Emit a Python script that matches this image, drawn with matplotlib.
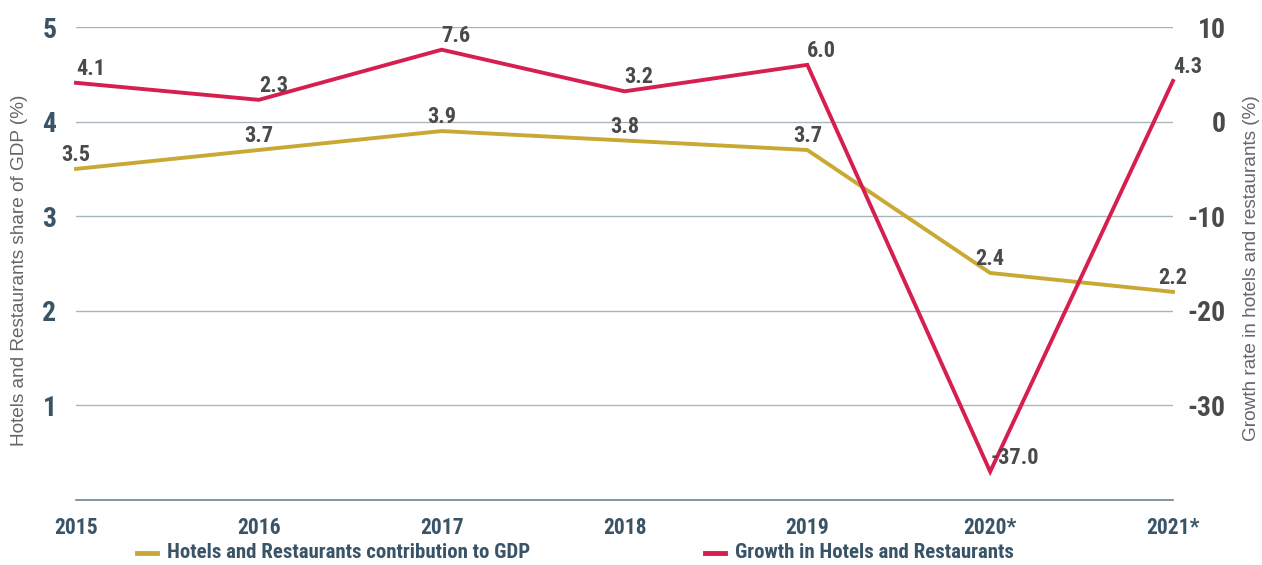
import matplotlib
matplotlib.use("Agg")
import matplotlib.pyplot as plt
from matplotlib.lines import Line2D

years = ["2015", "2016", "2017", "2018", "2019", "2020*", "2021*"]
gdp_share = [3.5, 3.7, 3.9, 3.8, 3.7, 2.4, 2.2]
growth = [4.1, 2.3, 7.6, 3.2, 6.0, -37.0, 4.3]
left_ticks = [1, 2, 3, 4, 5]
right_ticks = [-30, -20, -10, 0, 10]
series_names = ["Hotels and Restaurants contribution to GDP",
                "Growth in Hotels and Restaurants"]

GOLD = "#C9A933"
RED = "#D61F4F"
SLATE = "#3A5467"
DARK = "#4A4A4A"
GRID = "#A9B5BD"
AXIS = "#6C8395"

COND = ["Roboto Condensed", "DejaVu Sans"]
PLAIN = ["Liberation Sans", "DejaVu Sans"]

W, H = 1262, 565
fig = plt.figure(figsize=(W / 100, H / 100), dpi=100)
ax = fig.add_axes([76 / W, 65 / H, (1173 - 76) / W, (500 - 27) / H])
ax2 = ax.twinx()

x = list(range(len(years)))

ax.set_xlim(0, len(years) - 1)
ax.set_ylim(0, 5)
ax2.set_ylim(-40, 10)

for v in left_ticks:
    ax.axhline(v, color=GRID, lw=1.0, zorder=0)

for a in (ax, ax2):
    for s in a.spines.values():
        s.set_visible(False)
ax.spines["bottom"].set_visible(True)
ax.spines["bottom"].set_color(AXIS)
ax.spines["bottom"].set_linewidth(1.2)

ax.plot(x, gdp_share, color=GOLD, lw=2.8, clip_on=False, zorder=3,
        solid_joinstyle="miter")
ax2.plot(x, growth, color=RED, lw=2.8, clip_on=False, zorder=3,
         solid_joinstyle="miter")

label_kw = dict(textcoords="offset points", va="center", fontsize=16,
                fontweight="bold", color=DARK, family=COND, zorder=4,
                annotation_clip=False)
for xi, v in zip(x, gdp_share):
    ax.annotate(f"{v:.1f}", (xi, v), xytext=(0, 10), ha="center", **label_kw)
for xi, v in zip(x, growth):
    ax2.annotate(f"{v:.1f}", (xi, v), xytext=(0, 10), ha="left", **label_kw)

ax.set_xticks(x)
ax.set_xticklabels(years, fontsize=15.5, fontweight="bold", color=SLATE, family=COND)
ax.tick_params(axis="x", length=0, pad=12)

ax.set_yticks(left_ticks)
ax.set_yticklabels([str(t) for t in left_ticks], fontsize=20, fontweight="bold",
                   color=SLATE, family=COND)
ax.tick_params(axis="y", length=0, pad=14)

ax2.set_yticks(right_ticks)
ax2.set_yticklabels([str(t) for t in right_ticks], fontsize=20, fontweight="bold",
                    color=DARK, family=COND, ha="right")
ax2.tick_params(axis="y", length=0, pad=38)

fig.text(20 / W, 1 - 270 / H, "Hotels and Restaurants share of GDP (%)",
         rotation=90, ha="center", va="center", fontsize=13.7,
         color="#666666", family=PLAIN)
fig.text(1251 / W, 1 - 268 / H, "Growth rate in hotels and restaurants (%)",
         rotation=90, ha="center", va="center", fontsize=13.7,
         color="#666666", family=PLAIN)

# legend entries laid out in figure pixels
legend_y = 1 - 553 / H
for (x0, x1, tx), color, name in zip([(137, 157, 167), (705, 725, 735)],
                                     [GOLD, RED], series_names):
    fig.add_artist(Line2D([x0 / W, x1 / W], [legend_y, legend_y],
                          color=color, lw=3.5, transform=fig.transFigure))
    fig.text(tx / W, legend_y, name, ha="left", va="center", fontsize=15,
             fontweight="bold", color=SLATE, family=COND)

fig.savefig("out.png", dpi=100)
